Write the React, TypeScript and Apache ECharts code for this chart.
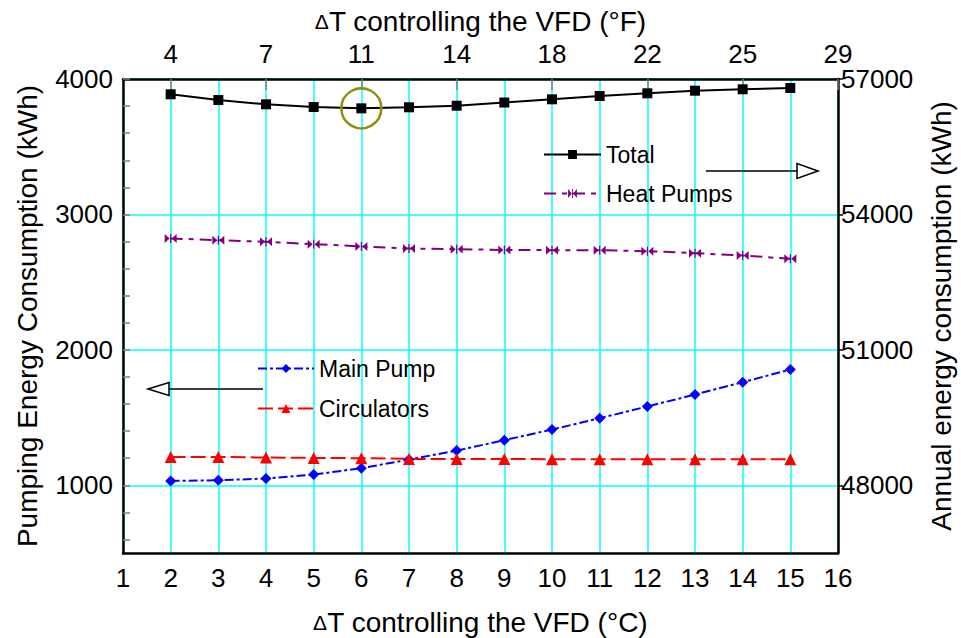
import React, { useEffect, useRef } from "react";
import * as echarts from "echarts";

const xC = [2, 3, 4, 5, 6, 7, 8, 9, 10, 11, 12, 13, 14, 15];
const totalKWh = [56661, 56534, 56439, 56379, 56350, 56373, 56408, 56479, 56550, 56623, 56683, 56741, 56772, 56800];
const heatPumpsKWh = [53468, 53430, 53393, 53342, 53291, 53246, 53231, 53213, 53209, 53209, 53186, 53142, 53091, 53016];
const mainPumpKWh = [1032, 1037, 1050, 1079, 1126, 1190, 1256, 1333, 1412, 1495, 1582, 1670, 1761, 1855];
const circulatorsKWh = [1209, 1209, 1205, 1202, 1200, 1195, 1194, 1194, 1193, 1193, 1192, 1192, 1192, 1192];

const topTickPositions = [2, 4, 6, 8, 10, 12, 14, 16];
const topTickLabels = ["4", "7", "11", "14", "18", "22", "25", "29"];
const leftLabelValues = [1000, 2000, 3000, 4000];
const leftMinorTicks = [600, 800, 1000, 1200, 1400, 1600, 1800, 2000, 2200, 2400, 2600, 2800, 3000, 3200, 3400, 3600, 3800, 4000];
const rightTickValues = [48000, 51000, 54000, 57000];

const FONT = "'Liberation Sans', Arial, sans-serif";
const CYAN = "#00FFFF";
const GRAY = "#808080";

const bowtie = "path://M0,0 L5,4.5 L0,9 Z M12,0 L7,4.5 L12,9 Z M5.4,0 L6.6,0 L6.6,9 L5.4,9 Z";

export default function App() {
  const ref = useRef<HTMLDivElement>(null);
  useEffect(() => {
    if (!ref.current) return;
    const chart = echarts.init(ref.current, null, { renderer: "svg" });
    const pair = (ys: number[]) => xC.map((x, i) => [x, ys[i]]);
    const axisNameStyle = {
      fontSize: 28,
      color: "#000",
      fontFamily: FONT,
      rich: { d: { fontSize: 21, color: "#000", fontFamily: FONT } },
    };
    const option: any = {
      animation: false,
      backgroundColor: "#fff",
      textStyle: { fontFamily: FONT },
      grid: { left: 123, right: 123, top: 79, bottom: 85, containLabel: false, outerBoundsMode: "none" },
      xAxis: [
        {
          type: "value",
          position: "bottom",
          min: 1,
          max: 16,
          interval: 1,
          axisLine: { show: true, lineStyle: { color: "#000", width: 2.5 } },
          axisTick: { show: false },
          axisLabel: { fontSize: 26, color: "#000", margin: 12, fontFamily: FONT },
          splitLine: { show: true, lineStyle: { color: CYAN, width: 1.5 } },
          name: "{d|Δ}T controlling the VFD (°C)",
          nameLocation: "middle",
          nameGap: 55,
          nameTextStyle: axisNameStyle,
        },
        {
          type: "value",
          position: "top",
          min: 1,
          max: 16,
          interval: 1,
          axisLine: { show: true, lineStyle: { color: "#000", width: 2.5 } },
          axisTick: {
            show: true,
            inside: true,
            length: 11,
            lineStyle: { color: GRAY, width: 1.5 },
            customValues: topTickPositions,
          },
          axisLabel: {
            fontSize: 26,
            color: "#000",
            margin: 12,
            fontFamily: FONT,
            customValues: topTickPositions,
            formatter: (v: number) => {
              const i = topTickPositions.indexOf(v);
              return i >= 0 ? topTickLabels[i] : "";
            },
          },
          splitLine: { show: false },
          name: "{d|Δ}T controlling the VFD (°F)",
          nameLocation: "middle",
          nameGap: 44,
          nameTextStyle: axisNameStyle,
        },
      ],
      yAxis: [
        {
          type: "value",
          position: "left",
          min: 500,
          max: 4000,
          interval: 500,
          axisLine: { show: true, lineStyle: { color: "#000", width: 2.5 } },
          axisTick: { show: false },
          axisLabel: {
            fontSize: 26,
            color: "#000",
            margin: 10,
            fontFamily: FONT,
            formatter: (v: number) => (leftLabelValues.indexOf(v) >= 0 ? String(v) : ""),
          },
          splitLine: {
            show: true,
            showMinLine: true,
            lineStyle: { color: ["rgba(0,0,0,0)", CYAN], width: 1.5 },
          },
          name: "Pumping Energy Consumption (kWh)",
          nameLocation: "middle",
          nameGap: 82,
          nameRotate: 90,
          nameTextStyle: axisNameStyle,
        },
        {
          type: "value",
          position: "right",
          min: 46500,
          max: 57000,
          interval: 1500,
          axisLine: { show: true, lineStyle: { color: "#000", width: 2.5 } },
          axisTick: {
            show: true,
            length: 5,
            lineStyle: { color: "#000", width: 1.5 },
            customValues: rightTickValues,
          },
          axisLabel: {
            fontSize: 26,
            color: "#000",
            margin: 3,
            fontFamily: FONT,
            customValues: rightTickValues,
            formatter: (v: number) => String(v),
          },
          splitLine: { show: false },
          name: "Annual energy consumption (kWh)",
          nameLocation: "middle",
          nameGap: 89,
          nameRotate: 90,
          nameTextStyle: axisNameStyle,
        },
        {
          type: "value",
          position: "left",
          min: 500,
          max: 4000,
          axisLine: { show: false },
          axisLabel: { show: false },
          splitLine: { show: false },
          axisTick: {
            show: true,
            inside: true,
            length: 7,
            lineStyle: { color: GRAY, width: 1.5 },
            customValues: leftMinorTicks,
          },
        },
      ],
      legend: [
        {
          data: ["Total", "Heat Pumps"],
          orient: "vertical",
          left: 543,
          top: 143,
          padding: 0,
          itemWidth: 57,
          itemHeight: 11,
          itemGap: 16,
          textStyle: { fontSize: 23, color: "#000", fontFamily: FONT },
        },
        {
          data: ["Main Pump", "Circulators"],
          orient: "vertical",
          left: 257,
          top: 357,
          padding: 0,
          itemWidth: 56,
          itemHeight: 11,
          itemGap: 17,
          textStyle: { fontSize: 23, color: "#000", fontFamily: FONT },
        },
      ],
      series: [
        {
          name: "Total",
          type: "line",
          xAxisIndex: 0,
          yAxisIndex: 1,
          data: pair(totalKWh),
          symbol: "rect",
          symbolSize: 10,
          color: "#000",
          lineStyle: { color: "#000", width: 2 },
          itemStyle: { color: "#000" },
          markPoint: {
            silent: true,
            symbol: "circle",
            symbolSize: 40,
            label: { show: false },
            itemStyle: { color: "rgba(0,0,0,0)", borderColor: "#8f8f12", borderWidth: 2.5 },
            data: [{ coord: [xC[4], totalKWh[4]] }],
          },
        },
        {
          name: "Heat Pumps",
          type: "line",
          xAxisIndex: 0,
          yAxisIndex: 1,
          data: pair(heatPumpsKWh),
          symbol: bowtie,
          symbolSize: [12, 9],
          color: "#800080",
          lineStyle: { color: "#800080", width: 2, type: [12, 6, 5, 6] },
          itemStyle: { color: "#800080" },
        },
        {
          name: "Main Pump",
          type: "line",
          xAxisIndex: 0,
          yAxisIndex: 0,
          data: pair(mainPumpKWh),
          symbol: "diamond",
          symbolSize: 11,
          color: "#0000FF",
          lineStyle: { color: "#0000FF", width: 2, type: [9, 3, 3, 3] },
          itemStyle: { color: "#0000FF" },
        },
        {
          name: "Circulators",
          type: "line",
          xAxisIndex: 0,
          yAxisIndex: 0,
          data: pair(circulatorsKWh),
          symbol: "triangle",
          symbolSize: 12,
          color: "#FF0000",
          lineStyle: { color: "#FF0000", width: 2, type: [15, 5] },
          itemStyle: { color: "#FF0000" },
        },
      ],
      graphic: [
        { type: "line", shape: { x1: 706, y1: 171, x2: 797, y2: 171 }, style: { stroke: "#000", lineWidth: 1.5 }, z: 10 },
        {
          type: "polygon",
          shape: { points: [[818, 171], [797, 163.5], [797, 178.5]] },
          style: { fill: "#fff", stroke: "#000", lineWidth: 1.5 },
          z: 10,
        },
        { type: "line", shape: { x1: 168, y1: 389, x2: 263, y2: 389 }, style: { stroke: "#000", lineWidth: 1.5 }, z: 10 },
        {
          type: "polygon",
          shape: { points: [[148, 389], [169, 382.5], [169, 395.5]] },
          style: { fill: "#fff", stroke: "#000", lineWidth: 1.5 },
          z: 10,
        },
      ],
    };
    chart.setOption(option);
    return () => chart.dispose();
  }, []);
  return (
    <div
      ref={ref}
      style={{ position: "fixed", left: 0, top: 0, width: 961, height: 638 }}
    />
  );
}
